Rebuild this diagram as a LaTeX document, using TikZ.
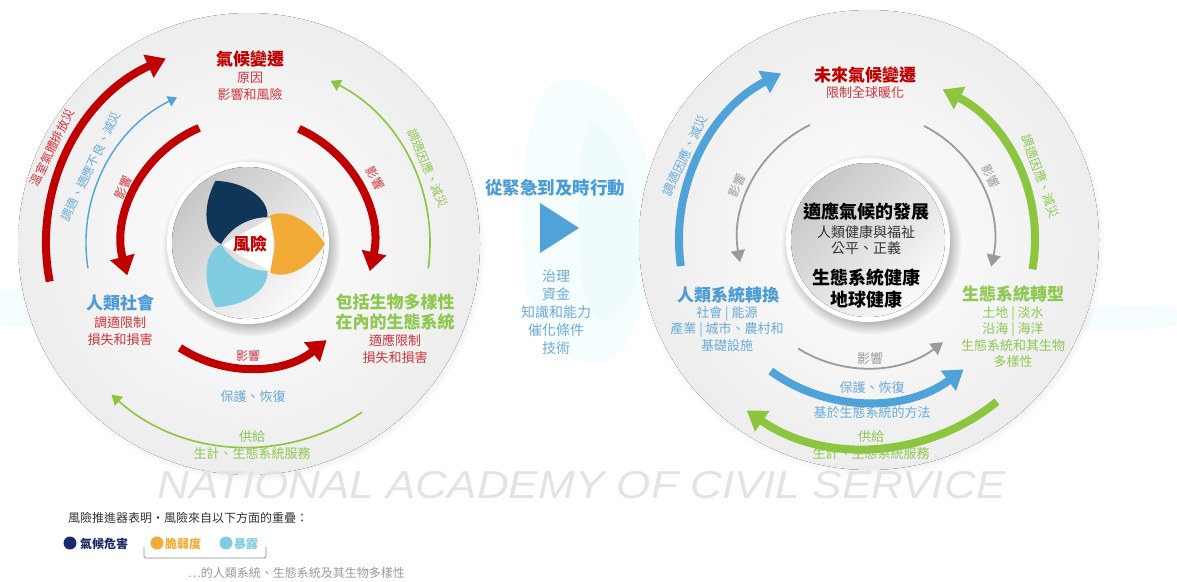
\documentclass[tikz,border=0pt]{standalone}
\usepackage{fontspec}
\setmainfont{Noto Sans CJK TC}
\newfontfamily\wmfont{Liberation Sans}
\usetikzlibrary{arrows.meta,shadows,calc}
\definecolor{cred}{HTML}{C00000}
\definecolor{tred}{HTML}{D0343C}
\definecolor{cblue}{HTML}{4FA3D9}
\definecolor{tblue}{HTML}{4A9BD6}
\definecolor{cgreen}{HTML}{8CC63F}
\definecolor{tgreen}{HTML}{8DC850}
\definecolor{cgray}{HTML}{9B9B9B}
\definecolor{navy}{HTML}{0F3557}
\definecolor{corange}{HTML}{F2AB36}
\definecolor{lblue}{HTML}{80CCE1}
\definecolor{lnavy}{HTML}{1A2B6B}
\definecolor{ltext}{HTML}{6AAAD9}
\definecolor{dtext}{HTML}{333333}
\definecolor{wash}{HTML}{E8F9FD}
\begin{document}
\begin{tikzpicture}[x=1pt,y=-1pt,
  title/.style={font=\fontsize{17}{20}\selectfont\bfseries, inner sep=0pt},
  sub/.style={font=\fontsize{13}{17}\selectfont, inner sep=0pt, align=center},
  lab/.style={font=\fontsize{12}{14}\selectfont, inner sep=0pt},
  thickarr/.style={line width=8pt,-{Triangle[width=24pt,length=19pt]}},
  thinarr/.style={line width=1.6pt,-{Triangle[width=12pt,length=10pt]}},
  grayarr/.style={line width=1.8pt,cgray,-{Triangle[width=14pt,length=12pt]}},
  disc/.style={shading=radial, inner color=white, outer color=black!7,
     circular drop shadow={shadow xshift=2pt, shadow yshift=-3pt, opacity=.4, fill=black!55, shadow scale=1.015}},
  core/.style={fill=white, circular drop shadow={shadow xshift=3pt, shadow yshift=-4pt, opacity=.45, fill=black!60}},
  coreshade/.style={shading=axis, top color=black!22, bottom color=black!2, shading angle=45},
  washblob/.style={fill=wash, opacity=.4}
]
\useasboundingbox (0,0) rectangle (1177,581);
% background wash
\fill[washblob] (560,80) .. controls (600,75) and (640,110) .. (648,170) .. controls (656,260) and (648,340) .. (605,362) .. controls (570,368) and (530,330) .. (525,280) .. controls (520,200) and (520,95) .. cycle;
\fill[washblob] (590,120) .. controls (620,130) and (640,200) .. (640,260) .. controls (630,320) and (600,340) .. (585,300) .. controls (575,240) and (575,150) .. cycle;
\fill[washblob] (0,292) .. controls (40,282) and (80,288) .. (100,300) .. controls (80,322) and (40,330) .. (0,325) -- cycle;
\fill[washblob] (1040,314) .. controls (1090,305) and (1150,304) .. (1177,308) -- (1177,324) .. controls (1140,334) and (1080,333) .. (1040,326) -- cycle;

\coordinate (cL) at (248,243);
\coordinate (cR) at (866,240);
% big discs
\fill[disc] (249,244) circle[radius=231];
\fill[disc] (869,240) circle[radius=230];
% inner discs
\fill[core] (cL) circle[radius=81];
\fill[coreshade] (cL) circle[radius=76];
\fill[core] (868,240) circle[radius=82];
\fill[coreshade] (868,240) circle[radius=77];

% petals
\foreach \ang/\col in {0/corange,120/navy,-120/lblue}{
  \begin{scope}[shift={(252,244)}, rotate=\ang]
    \fill[\col] (15.5,26.8) .. controls (32,38) and (58,24) .. (73,0)
      .. controls (58,-24) and (32,-38) .. (15.5,-26.8)
      .. controls (25,-10) and (25,10) .. cycle;
  \end{scope}
}
\fill[white] (270,217) .. controls (262,225) and (240,233) .. (223,245)
  .. controls (240,257) and (262,265) .. (270,272) .. controls (274,255) and (274,234) .. cycle;
\node[title, cred] (risk) at (250,244) {風險};

% ===== left circle arrows =====
\draw[thickarr, cred] ([shift={(-191:202)}]cL) arc[start angle=-191, end angle=-114, radius=202];
\draw[cblue, line width=1.4pt, -{Triangle[width=11pt,length=9pt]}] ([shift={(-189:162)}]cL) arc[start angle=-189, end angle=-116, radius=162];
\draw[thickarr, cred] ([shift={(-113:125)}]cL) arc[start angle=-113, end angle=-195, radius=125];
\draw[thickarr, cred] ([shift={(-66:125)}]cL) arc[start angle=-66, end angle=13, radius=125];
\draw[thickarr, cred] ([shift={(-237:125)}]cL) arc[start angle=-237, end angle=-309, radius=125];
\draw[thinarr, cgreen] ([shift={(8:182)}]cL) arc[start angle=8, end angle=-63, radius=182];
\draw[thinarr, cgreen] ([shift={(-304:204)}]cL) arc[start angle=-304, end angle=-228, radius=204];

% left circle labels
\node[title, cred] (cc) at (250,59) {氣候變遷};
\node[sub, tred] (ccs) at (250,86.5) {原因\\影響和風險};
\node[title, tblue] (hs) at (120,303) {人類社會};
\node[sub, tred] (hss) at (120,331.5) {調適限制\\損失和損害};
\node[title, tgreen, align=center] (eco) at (395,312) {包括生物多樣性\\在內的生態系統};
\node[sub, tred] (ecos) at (395,348.5) {適應限制\\損失和損害};
\node[lab, tred, rotate=64] (l1) at ([shift={(-154:218)}]cL) {溫室氣體排放災};
\node[lab, ltext, rotate=64] (l2) at ([shift={(-154:175)}]cL) {調適、適應不良、減災};
\node[lab, tred, rotate=66] (l3) at ([shift={(-156:137)}]cL) {影響};
\node[lab, tred, rotate=-63] (l4) at ([shift={(-27:143)}]cL) {影響};
\node[lab, tgreen, rotate=-67] (l5) at ([shift={(-22.5:195)}]cL) {調適因應、減災};
\node[lab, tred] (l6) at (248,356) {影響};
\node[sub, ltext] (l7) at (253,397) {保護、恢復};
\node[sub, tgreen] (l8) at (252,445.5) {供給\\生計、生態系統服務};

% ===== middle =====
\node[font=\fontsize{17.5}{20}\selectfont\bfseries, tblue, inner sep=0pt] (act) at (555,188) {從緊急到及時行動};
\fill[cblue] (540,203) -- (579,228) -- (540,253) -- cycle;
\node[font=\fontsize{14}{18}\selectfont, ltext, align=center, inner sep=0pt] (enab) at (556,312) {治理\\資金\\知識和能力\\催化條件\\技術};

% ===== right circle arrows =====
\draw[thickarr, cblue] ([shift={(-188:187)}]cR) arc[start angle=-188, end angle=-117, radius=187];
\draw[grayarr] ([shift={(-116:128)}]cR) arc[start angle=-116, end angle=-190, radius=128];
\draw[grayarr] ([shift={(-63:128)}]cR) arc[start angle=-63, end angle=12, radius=128];
\draw[thickarr, cgreen] ([shift={(10:169)}]cR) arc[start angle=10, end angle=-63, radius=169];
\draw[grayarr] ([shift={(-238:128)}]cR) arc[start angle=-238, end angle=-307, radius=128];
\draw[thickarr, cblue] ([shift={(-234:162)}]cR) arc[start angle=-234, end angle=-307, radius=162];
\draw[thickarr, cgreen] ([shift={(-309:208)}]cR) arc[start angle=-309, end angle=-235, radius=208];

% right circle labels
\node[title, cred] (fc) at (865,75) {未來氣候變遷};
\node[sub, tred] (fcs) at (865,93) {限制全球暖化};
\node[font=\fontsize{18}{20}\selectfont\bfseries, black, inner sep=0pt] (crd) at (866,212) {適應氣候的發展};
\node[font=\fontsize{14}{16}\selectfont, dtext, align=center, inner sep=0pt] (crds) at (866,240) {人類健康與福祉\\公平、正義};
\node[font=\fontsize{18}{22}\selectfont\bfseries, black, align=center, inner sep=0pt] (ph) at (866,289) {生態系統健康\\地球健康};
\node[title, tblue] (hst) at (728,295) {人類系統轉換};
\node[sub, ltext, font=\fontsize{13}{16.5}\selectfont] (hsts) at (727,329) {社會 | 能源\\產業 | 城市、農村和\\基礎設施};
\node[title, tgreen] (est) at (1013,294) {生態系統轉型};
\node[sub, tgreen, font=\fontsize{13}{16.3}\selectfont] (ests) at (1013,337) {土地 | 淡水\\沿海 | 海洋\\生態系統和其生物\\多樣性};
\node[lab, ltext, font=\fontsize{12.5}{14}\selectfont, rotate=65] (r1) at ([shift={(-155:200)}]cR) {調適因應、減災};
\node[lab, cgray, rotate=67] (r2) at ([shift={(-157:140)}]cR) {影響};
\node[lab, cgray, rotate=-63] (r3) at ([shift={(-27:140)}]cR) {影響};
\node[lab, tgreen, font=\fontsize{12.5}{14}\selectfont, rotate=-70] (r4) at ([shift={(-20:186)}]cR) {調適因應、減災};
\node[sub, cgray] (r5) at (870,358) {影響};
\node[sub, ltext] (r6) at (872,388) {保護、恢復};
\node[sub, ltext] (r7) at (872,413) {基於生態系統的方法};
\node[sub, tgreen] (r8) at (871,445) {供給\\生計、生態系統服務};

% watermark
\node[font=\wmfont\itshape\fontsize{39}{41}\selectfont, black!11, anchor=west, inner sep=0pt, xscale=1.13] (wm) at (157,485) {NATIONAL ACADEMY OF CIVIL SERVICE};

% legend
\node[font=\fontsize{12}{14}\selectfont, dtext, anchor=west, inner sep=0pt] (lg) at (68,518) {風險推進器表明·風險來自以下方面的重疊：};
\fill[lnavy] (70,543) circle[radius=6.5];
\node[font=\fontsize{12}{14}\selectfont\bfseries, lnavy, anchor=west, inner sep=0pt] (lg1) at (80,544) {氣候危害};
\fill[corange] (157,543) circle[radius=6.5];
\node[font=\fontsize{12}{14}\selectfont\bfseries, corange, anchor=west, inner sep=0pt] (lg2) at (165,544) {脆弱度};
\fill[lblue] (226,543) circle[radius=6.5];
\node[font=\fontsize{12}{14}\selectfont\bfseries, lblue, anchor=west, inner sep=0pt] (lg3) at (234,544) {暴露};
\draw[black!45, line width=0.8pt, rounded corners=1.5pt] (144,547) -- (144,558) -- (266,558) -- (266,547);
\node[font=\fontsize{12}{14}\selectfont, black!40, anchor=west, inner sep=0pt] (lg4) at (188,573) {…的人類系統、生態系統及其生物多樣性};
\end{tikzpicture}
\end{document}
